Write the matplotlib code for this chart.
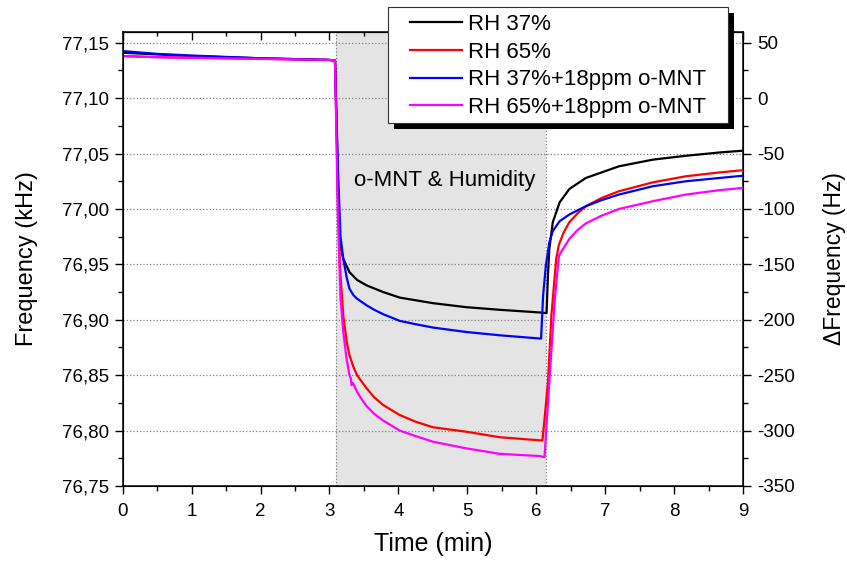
import matplotlib.pyplot as plt
from matplotlib.ticker import MultipleLocator, FuncFormatter
from matplotlib.patches import Rectangle
import numpy as np

plt.rcParams['font.family'] = ['Liberation Sans', 'DejaVu Sans']

# base frequency of the right axis (kHz)
f0 = 77.10

# series: time (min) and frequency shift (Hz)
t_rh37 = [0, 0.5, 1, 2, 3.0, 3.08, 3.11, 3.13, 3.16, 3.2, 3.29, 3.4, 3.54, 3.78, 4.02,
          4.5, 4.98, 5.47, 6.05, 6.15, 6.17, 6.19, 6.24, 6.34, 6.48, 6.72, 7.2, 7.69,
          8.17, 8.66, 9.0]
hz_rh37 = [41, 39.5, 38, 36, 34.5, 34, -40, -110, -133, -145, -157, -164, -169, -175, -180,
           -185, -188.6, -191, -193.4, -194, -160, -136, -112, -94, -82, -72, -61.5, -55.5,
           -52, -49, -47.4]

t_rh65 = [0, 0.5, 1, 2, 3.0, 3.08, 3.12, 3.15, 3.2, 3.25, 3.29, 3.35, 3.4, 3.47, 3.54,
          3.65, 3.78, 4.02, 4.25, 4.5, 4.98, 5.47, 6.09, 6.12, 6.17, 6.22, 6.29, 6.33,
          6.4, 6.48, 6.6, 6.72, 6.95, 7.2, 7.69, 8.17, 8.66, 9.0]
hz_rh65 = [38, 37, 36.5, 35.5, 34.5, 34, -80, -151, -196, -220, -232, -243, -250, -256,
           -262, -270, -277, -286, -292, -297, -301, -306, -309, -290, -256, -196, -145,
           -132, -121, -112, -104, -97.5, -90, -84, -76, -70.5, -67, -65]

t_rh37_mnt = [0, 0.5, 1, 2, 3.0, 3.08, 3.12, 3.16, 3.2, 3.25, 3.29, 3.35, 3.4, 3.47, 3.54,
              3.65, 3.78, 4.02, 4.25, 4.5, 4.98, 5.47, 6.07, 6.10, 6.14, 6.19, 6.24, 6.34,
              6.48, 6.72, 6.95, 7.2, 7.69, 8.17, 8.66, 9.0]
hz_rh37_mnt = [42.5, 40, 38.5, 36, 34.5, 34, -60, -125, -145, -162, -172, -178, -181,
               -184, -187, -191, -195, -201, -204, -207, -211, -214, -217, -178, -151,
               -130, -120, -111, -105, -97.5, -92, -87, -79.5, -75, -72, -70]

t_rh65_mnt = [0, 0.5, 1, 2, 3.0, 3.08, 3.12, 3.16, 3.2, 3.25, 3.29, 3.31, 3.32, 3.34, 3.4,
              3.47, 3.54, 3.65, 3.78, 4.02, 4.25, 4.5, 4.98, 5.47, 6.05, 6.12, 6.19, 6.27,
              6.33, 6.39, 6.48, 6.6, 6.72, 6.95, 7.2, 7.69, 8.17, 8.66, 9.0]
hz_rh65_mnt = [38, 37, 36.5, 35.5, 34.5, 34, -100, -180, -211, -236, -250, -253, -259,
               -257, -265, -272, -278, -285, -291, -300, -305, -310, -316, -321, -323,
               -324, -256, -181, -142, -136, -127, -119, -113, -106, -100, -93, -87, -83,
               -81]

labels = ['RH 37%', 'RH 65%', 'RH 37%+18ppm o-MNT', 'RH 65%+18ppm o-MNT']
colors = ['black', '#ff0000', '#0000ff', '#ff00ff']
series = [(t_rh37, hz_rh37), (t_rh65, hz_rh65), (t_rh37_mnt, hz_rh37_mnt),
          (t_rh65_mnt, hz_rh65_mnt)]

# exposure window
t_on, t_off = 3.1, 6.14

fig = plt.figure(figsize=(8.47, 5.67), dpi=100)
ax = fig.add_axes([0.1449, 0.1429, 0.7323, 0.8012])

ax.axvspan(t_on, t_off, color='#e4e4e4', zorder=0, lw=0)
for xv in (t_on, t_off):
    ax.axvline(xv, color='#808080', ls=':', lw=0.9, zorder=1)

lines = []
for (t, hz), c, lab in zip(series, colors, labels):
    f = f0 + np.array(hz) / 1000.0
    l, = ax.plot(t, f, color=c, lw=1.6, label=lab, zorder=3)
    lines.append(l)

ax.set_xlim(0, 9)
ax.set_ylim(76.75, 77.16)
ax.xaxis.set_major_locator(MultipleLocator(1))
ax.xaxis.set_minor_locator(MultipleLocator(0.5))
ax.yaxis.set_major_locator(MultipleLocator(0.05))
ax.yaxis.set_minor_locator(MultipleLocator(0.025))
ax.yaxis.set_major_formatter(FuncFormatter(lambda v, p: f"{v:.2f}".replace('.', ',')))
ax.grid(axis='y', which='major', color='#808080', ls=':', lw=0.9, zorder=1)
ax.set_axisbelow(False)
ax.tick_params(which='major', direction='out', length=6, width=1, labelsize=13.5)
ax.tick_params(which='minor', direction='out', length=3.5, width=1)
ax.tick_params(axis='x', which='major', pad=6)
ax.tick_params(axis='y', which='major', pad=4)
ax.tick_params(right=False, top=False)
for s in ax.spines.values():
    s.set_linewidth(1.1)

# top ticks pointing inward, no labels
top = ax.secondary_xaxis('top')
top.xaxis.set_major_locator(MultipleLocator(1))
top.xaxis.set_minor_locator(MultipleLocator(0.5))
top.tick_params(which='major', direction='in', length=6, width=1, labeltop=False)
top.tick_params(which='minor', direction='in', length=3, width=1)

# right axis in Hz
ax2 = ax.twinx()
ax2.set_ylim((76.75 - f0) * 1000, (77.16 - f0) * 1000)
ax2.yaxis.set_major_locator(MultipleLocator(50))
ax2.yaxis.set_minor_locator(MultipleLocator(25))
ax2.tick_params(which='major', direction='out', length=6, width=1, labelsize=13.5, pad=4)
ax2.tick_params(which='minor', direction='out', length=3.5, width=1)
ax2.yaxis.set_major_formatter(FuncFormatter(lambda v, p: f"{v:.0f}".replace('\u2212', '-')))

ax.set_xlabel('Time (min)', fontsize=18, labelpad=9)
ax.set_ylabel('Frequency (kHz)', fontsize=17, labelpad=17)
ax2.set_ylabel('ΔFrequency (Hz)', fontsize=16.5, labelpad=20)

ax.text(4.67, 77.026, 'o-MNT & Humidity', fontsize=16, ha='center', va='center', zorder=4)

# legend box drawn by hand: black shadow, then white frame, then the entries
W, H = 847, 567
fig.patches.append(Rectangle((394, H - 129), 340, 116, transform=None,
                             facecolor='black', edgecolor='none', zorder=4.5, figure=fig))
fig.patches.append(Rectangle((388, H - 123), 340, 116, transform=None,
                             facecolor='white', edgecolor='#333333', lw=0.8,
                             zorder=4.6, figure=fig))
leg = fig.legend(handles=lines, loc='upper left', bbox_to_anchor=(410 / W, 1 - 14 / H),
                 fontsize=16, frameon=False, handlelength=2.35, handletextpad=0.28,
                 labelspacing=0.3, borderpad=0, borderaxespad=0)
leg.set_zorder(5)

fig.savefig('out.png', dpi=100)
